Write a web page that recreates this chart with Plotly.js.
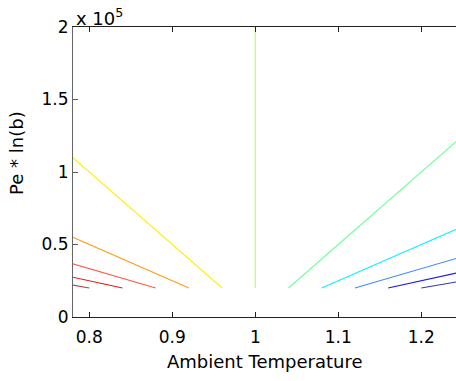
<!DOCTYPE html>
<html>
<head>
<meta charset="utf-8">
<script src="https://cdn.plot.ly/plotly-3.0.1.min.js"></script>
<style>html,body{margin:0;padding:0;background:#fff;}#chart{width:456px;height:381px;}</style>
</head>
<body>
<div id="chart"></div>
<script>
// Contour lines of Pe*ln(b) vs ambient temperature
const tempStart = [0.78, 0.78, 0.78, 0.78, 0.78, 1.00, 1.04, 1.08, 1.12, 1.16, 1.20];
const tempEnd   = [0.80, 0.84, 0.88, 0.92, 0.96, 1.00, 1.25, 1.25, 1.25, 1.25, 1.25];
const peStart   = [22000, 27500, 36700, 55000, 110000, 20000, 20000, 20000, 20000, 20000, 20000];
const peEnd     = [20000, 20000, 20000, 20000, 20000, 200000, 125000, 62500, 41700, 31250, 25000];
const lineColors = ['#b04848', '#e41818', '#ff5a48', '#ff9a20', '#ffee10', '#b8ff50',
                    '#70ff98', '#10f0ff', '#3c88ff', '#1818f0', '#3434b4'];

const xTickVals = [0.8, 0.9, 1.0, 1.1, 1.2];
const xTickText = ['0.8', '0.9', '1', '1.1', '1.2'];
const yTickVals = [0, 50000, 100000, 150000, 200000];
const yTickText = ['0', '0.5', '1', '1.5', '2'];

const traces = tempStart.map((t0, i) => ({
  x: [t0, tempEnd[i]],
  y: [peStart[i], peEnd[i]],
  mode: 'lines',
  type: 'scatter',
  line: {color: lineColors[i], width: 1.1},
  hoverinfo: 'none',
  showlegend: false
}));

const font = {family: 'DejaVu Sans, Arial, sans-serif', size: 17, color: '#000'};
const titleFont = {family: 'DejaVu Sans, Arial, sans-serif', size: 18, color: '#000'};

const layout = {
  width: 456, height: 381,
  margin: {l: 73, r: 0, t: 27, b: 64},
  paper_bgcolor: '#fff', plot_bgcolor: '#fff',
  font: font,
  showlegend: false,
  xaxis: {
    range: [0.7804, 1.2418],
    tickvals: xTickVals, ticktext: xTickText,
    ticks: 'inside', ticklen: 5, tickcolor: '#222',
    showline: true, linecolor: '#222', linewidth: 1, mirror: 'ticks',
    showgrid: false, zeroline: false,
    ticklabelstandoff: 5,
    tickfont: font
  },
  yaxis: {
    range: [0, 200000],
    tickvals: yTickVals, ticktext: yTickText,
    ticks: 'inside', ticklen: 5, tickcolor: '#555',
    showline: true, linecolor: '#666', linewidth: 1, mirror: false,
    showgrid: false, zeroline: false,
    tickfont: font
  },
  annotations: [
    {text: 'Ambient Temperature', xref: 'paper', yref: 'paper', x: 0.5, y: -0.153,
     xanchor: 'center', yanchor: 'middle', showarrow: false, font: titleFont},
    {text: 'Pe * ln(b)', xref: 'paper', yref: 'paper', x: -0.146, y: 0.566, textangle: -90,
     xanchor: 'center', yanchor: 'middle', showarrow: false, font: titleFont},
    {text: 'x 10<sup>5</sup>', xref: 'paper', yref: 'paper', x: 0.003, y: 0.985,
     xanchor: 'left', yanchor: 'bottom', showarrow: false, font: titleFont}
  ]
};

Plotly.newPlot('chart', traces, layout, {displayModeBar: false, staticPlot: true});
</script>
</body>
</html>
